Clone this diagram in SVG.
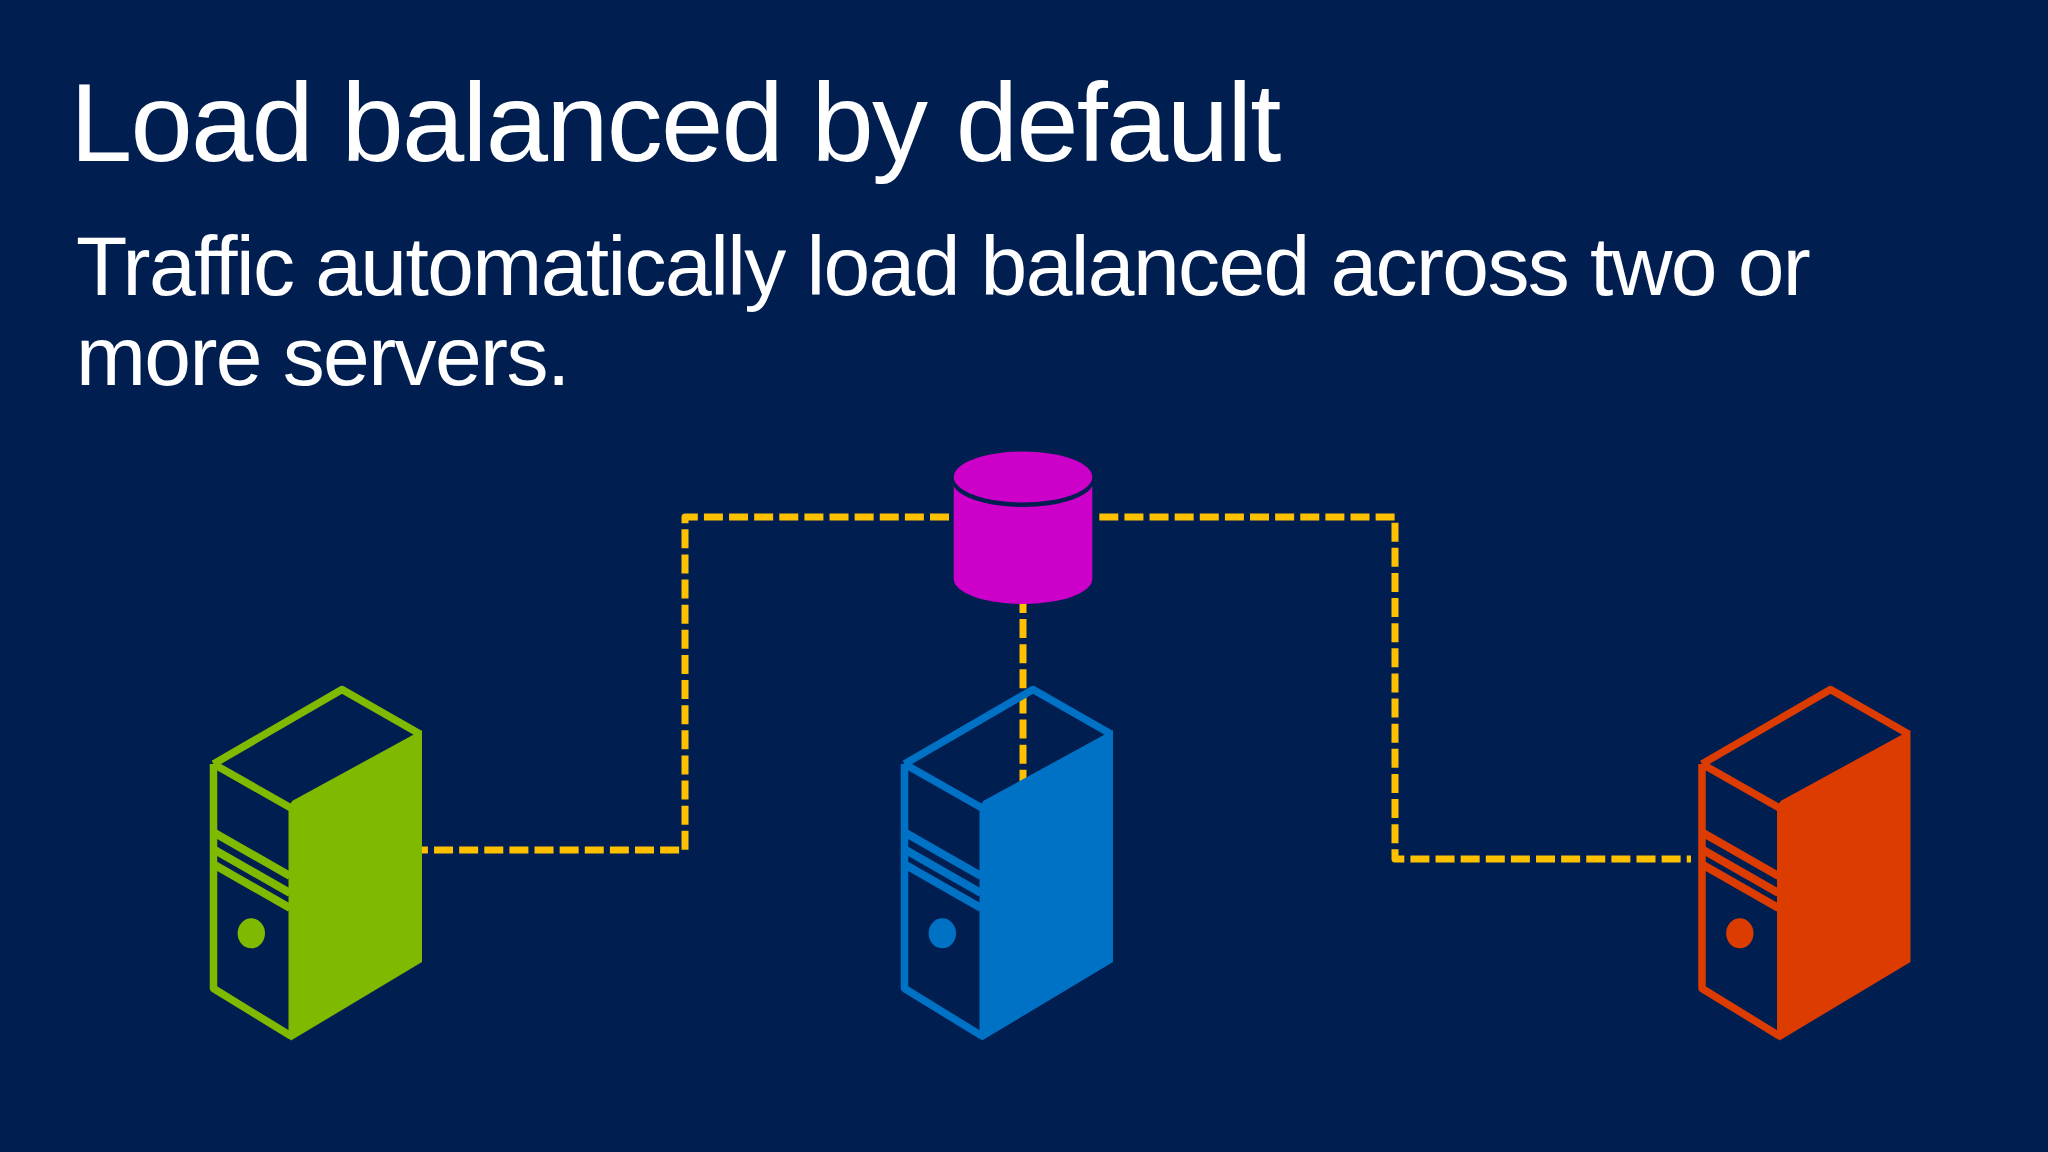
<svg xmlns="http://www.w3.org/2000/svg" width="2048" height="1152" viewBox="0 0 2048 1152">
<defs>
<style>
.t{font-family:"Liberation Sans",Arial,sans-serif;fill:#fff}
.dash{fill:none;stroke:#ffc000;stroke-width:7;stroke-dasharray:19 6.12;stroke-linejoin:round}
.ol{fill:none;stroke-width:7.500;stroke-linejoin:round}
.bd{fill:none;stroke-width:8}
</style>
<g id="srv">
<path class="ol" d="M213.500,764 L342,689.500 L419,733.500 M213.500,764 L291,808 M213.500,764 V988.500 L291,1036"/>
<path class="bd" d="M213,832 L290,876 M213,849 L290,893 M213,864 L290,908"/>
<path stroke="none" d="M288.500,806 L292.500,800.800 L422,730 V962 L291,1040.500 L288.500,1038 Z"/>
<ellipse cx="251.300" cy="933.300" rx="13.700" ry="15" stroke="none"/>
</g>
</defs>
<rect width="2048" height="1152" fill="#011e50"/>
<text class="t" x="70" y="160.500" font-size="112" letter-spacing="-1.750">Load balanced by default</text>
<text class="t" x="76" y="295" font-size="84" letter-spacing="-1.600">Traffic automatically load balanced across two or</text>
<text class="t" x="76" y="385" font-size="84" letter-spacing="-1.600">more servers.</text>
<g id="connectors">
<path class="dash" d="M949,517 H685 V850 H422"/>
<path class="dash" d="M1099.300,517 H1395 V859 H1691"/>
<path class="dash" d="M1023,594 V790"/>
</g>
<g id="db">
<path fill="#cc00c8" d="M953.700,480 V579 A69.300,25 0 0 0 1092.300,579 V480 Z"/>
<ellipse cx="1023" cy="480.500" rx="71" ry="26.500" fill="#011e50"/>
<ellipse cx="1023" cy="477" rx="69.300" ry="25.500" fill="#cc00c8"/>
</g>
<g id="server-green" fill="#7fba00" stroke="#7fba00"><use href="#srv"/></g>
<g id="server-blue" fill="#0072c6" stroke="#0072c6"><use href="#srv" x="691"/></g>
<g id="server-orange" fill="#dd3c00" stroke="#dd3c00"><use href="#srv" x="1488.500"/></g>
</svg>
